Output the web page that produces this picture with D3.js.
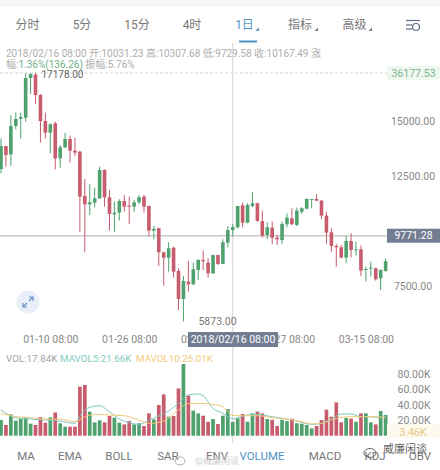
<!DOCTYPE html>
<html>
<head>
<meta charset="utf-8">
<script src="https://cdnjs.cloudflare.com/ajax/libs/d3/7.8.5/d3.min.js"></script>
<style>
html,body{margin:0;padding:0;background:#fff;}
svg{display:block;font-family:Roboto,"Noto Sans CJK SC",sans-serif;}
</style>
</head>
<body>
<div id="chart"></div>
<script>
// Daily candles
const opens = [12805,13851,13472,14760,15093,15139,16941,17093,16169,14987,14457,14881,13290,13790,14169,13639,13593,11578,11200,11275,11472,12760,11518,10745,10821,11351,11139,11093,11290,11548,11124,10003,10109,9018,8775,9230,8170,6897,7685,7564,8215,8670,8548,8063,8897,8488,9457,10031.23,10154,11154,10366,11124,11245,10442,9806,10139,9684,9578,10291,10563,10260,10866,11003,11412,11442,11366,10684,9927,9306,9245,8776,9533,9124,9154,8215,8276,8291,7836,8169];
const highs = [14199,13851,15260,15366,15366,17153,17150,17178,16214,15366,14881,14957,13896,14457,14320,14229,13624,12351,12108,11957,12911,12790,11851,11321,11427,11624,11548,11396,11624,11624,11139,10215,10139,9048,9472,9275,8291,7942,8624,8548,8700,9094,8745,8897,8897,9609,10215,10307.68,11124,11275,11245,11745,11275,10912,10381,10412,9806,10412,10791,11018,11048,11063,11472,11442,11654,11396,10866,10109,9397,9351,9760,9882,9503,9321,8366,8594,8321,8245,8745];
const lows = [12608,12911,12942,14608,14199,14957,16214,15745,14002,14199,13517,12790,12866,13745,13093,13396,9927,9018,10715,11063,11442,11093,10003,9957,10457,10866,10306,10866,11215,10821,9730,9609,8397,7503,8139,7867,6397,5873,7230,7533,7760,8215,7867,8033,8442,8488,9245,9729.58,10109,10154,10336,11063,10412,9684,9624,9381,9351,9397,10154,10260,10215,10760,10972,11018,11351,10533,9397,9048,8366,8745,8518,8791,8866,7942,7685,7912,7730,7306,8139];
const closes = [13851,13442,14760,15078,15169,16941,17123,16169,14987,14457,14836,13290,13790,14169,13639,13548,11548,11200,11290,11472,12760,11518,10760,10821,11351,11093,11093,11290,11518,11093,10003,10078,9018,8775,9200,8139,6897,7715,7564,8245,8670,8609,8063,8897,8488,9472,10033,10167.49,11124,10366,11169,11245,10442,9775,10154,9684,9609,10306,10594,10291,10912,11018,11442,11442,11366,10684,9912,9306,9245,8776,9533,9124,9154,8185,8260,8321,7791,8215,8609];
// Volume per day, in thousands
const volumes = [20.2,13.8,27.5,19.4,21.5,23.7,15.5,13.8,24,16.8,23.7,30,16,11.6,11.6,11.6,63.2,65.4,31,17.2,19.8,17.2,25.4,23.2,16.8,14.6,18.9,14.6,16,12.5,28.8,21,39.6,53.3,24.5,25.4,61,92.5,51.6,32.3,28.8,25.8,18,21.5,15,25.8,34.4,17.84,22.4,28,18,28.8,31,28.8,21.5,20.6,12.5,20.6,18.9,22,16,15.5,13.8,9.5,12.5,20.2,33.5,24.5,43,17.2,22.8,22,18,28.8,28.8,17.2,14.6,31.8,26.7];
// Volume averages, as [day, thousands]
const mavol5 = [[0,33.5],[3,23.2],[6,21.5],[9,20.2],[12,18.9],[15,15.9],[16,25.8],[17,33.1],[18,36.6],[20,38.7],[22,31],[24,21.5],[26,16.8],[28,14.6],[30,19.8],[32,25.4],[34,31.8],[36,41.7],[38,52.5],[40,53.8],[41,51.6],[43,35.1],[45,28.8],[46,24.5],[47,21.66],[48,23.2],[50,26.7],[52,27.5],[55,24.5],[58,21.5],[60,18.9],[63,14.6],[65,15.9],[67,21.5],[69,28],[71,28],[73,24.5],[75,24.5],[77,23.2],[78,24.5]];
const mavol10 = [[0,28.8],[3,24.5],[6,23.2],[9,21.5],[12,21.5],[15,18],[17,24.5],[19,27.5],[22,26.7],[25,25.8],[28,20.2],[30,15.9],[33,18.9],[36,33.5],[38,41.7],[40,41.7],[43,40.4],[45,37.4],[47,26.01],[49,25.8],[52,25.8],[55,23.2],[58,21.5],[61,18],[63,15.1],[65,15.9],[68,22.4],[71,24.5],[74,24.5],[76,24.5],[78,23.2]];

const timeTickDays = [10,26,42,58,74];
const timeTickLabels = ["01-10 08:00","01-26 08:00","02-11 08:00","02-27 08:00","03-15 08:00"];
const priceTicks = [15000,12500,7500];
const volumeTicks = [80,60,40,20];
const periodTabs = ["分时","5分","15分","4时","1日","指标","高级"];
const indicatorTabs = ["MA","EMA","BOLL","SAR","ENV","VOLUME","MACD","KDJ","OBV"];
const selectedDay = 47;
const lastPrice = 9771.28;
const topPrice = 36177.53;
const peakPrice = 17178;
const bottomPrice = 5873;

const GREEN = "#4fa26e", RED = "#c75c6c", BLUE = "#4f93c6", SLATE = "#737d92";
const W = 440, H = 470;
const svg = d3.select("#chart").append("svg").attr("width", W).attr("height", H);

const x = d3.scaleLinear().domain([0, 78]).range([1, 385.6]);
const y = d3.scaleLinear().domain([7500, 15000]).range([285.7, 120.7]);
const yVol = d3.scaleLinear().domain([0, 80]).range([435.7, 373.7]);

const text = (s, px, py, size, fill, anchor) => svg.append("text")
  .attr("x", px).attr("y", py).attr("font-size", size).attr("fill", fill)
  .attr("text-anchor", anchor || "start").attr("dominant-baseline", "central").text(s);

// Page chrome
svg.append("rect").attr("width", W).attr("height", 7).attr("fill", "#f6f6f6");

const tabCentres = d3.scaleOrdinal().domain(periodTabs).range([27.5,82,137,192,244.5,300,354.5]);
periodTabs.forEach(t => text(t, tabCentres(t), 25, 12, t === "1日" ? BLUE : "#777", "middle"));
svg.append("rect").attr("x", 239).attr("y", 40.5).attr("width", 18).attr("height", 2).attr("fill", BLUE);
[[259,BLUE],[318,"#777"],[372,"#777"]].forEach(([tx, c]) =>
  svg.append("path").attr("d", `M${tx} 31 h-3.5 l3.5 -3.5 z`).attr("fill", c));

// Settings glyph in the toolbar
const gear = svg.append("g").attr("stroke", "#5c6f8a").attr("fill", "none").attr("stroke-width", 1.2);
[[406,420,20.5],[406,412,25],[406,412,29]].forEach(([a,b,c]) =>
  gear.append("line").attr("x1", a).attr("x2", b).attr("y1", c).attr("y2", c));
gear.append("circle").attr("cx", 416).attr("cy", 27).attr("r", 3.5);

// Selected-day readout
const info = svg.append("text").attr("y", 53).attr("font-size", 10).attr("fill", "#adadad").attr("dominant-baseline", "central");
info.append("tspan").attr("x", 6).text("2018/02/16 08:00 开:10031.23 高:10307.68 低:9729.58 收:10167.49  涨");
const info2 = svg.append("text").attr("y", 64).attr("font-size", 10).attr("fill", "#adadad").attr("dominant-baseline", "central");
info2.append("tspan").attr("x", 6).text("幅:");
info2.append("tspan").attr("fill", "#6fae85").text("1.36%(136.26)");
info2.append("tspan").text(" 振幅:5.76%");

// Guide lines
svg.append("line").attr("x1", 0).attr("x2", 387).attr("y1", 73).attr("y2", 73)
  .attr("stroke", "#d4d4d4").attr("stroke-dasharray", "3,2");
svg.append("line").attr("x1", 0).attr("x2", 387).attr("y1", y(lastPrice)).attr("y2", y(lastPrice))
  .attr("stroke", "#c9c9c9").attr("stroke-width", 1.5);
svg.append("line").attr("x1", x(selectedDay)).attr("x2", x(selectedDay)).attr("y1", 43).attr("y2", 443)
  .attr("stroke", "#d4d4d4");

// Candles
const days = d3.range(opens.length);
const candleColor = i => closes[i] >= opens[i] ? GREEN : RED;
const candles = svg.append("g").selectAll("g").data(days).join("g");
candles.append("line")
  .attr("x1", x).attr("x2", x)
  .attr("y1", i => y(highs[i])).attr("y2", i => y(lows[i]))
  .attr("stroke", candleColor).attr("stroke-width", 1);
candles.append("rect")
  .attr("x", i => x(i) - 1.8).attr("width", 3.6)
  .attr("y", i => y(Math.max(opens[i], closes[i])))
  .attr("height", i => Math.max(1, Math.abs(y(opens[i]) - y(closes[i]))))
  .attr("fill", candleColor);

// Extreme price labels
text(peakPrice.toFixed(2), x(7) + 6, y(peakPrice) + 1.5, 10, "#666");
text(bottomPrice.toFixed(2), x(37) + 15, y(bottomPrice) + 0.5, 10.5, "#777");

// Price axis
const priceAxis = d3.axisRight(y).tickValues(priceTicks).tickSize(0).tickFormat(d3.format(".2f"));
const gPrice = svg.append("g").attr("transform", "translate(413,0)").call(priceAxis);
gPrice.select(".domain").remove();
gPrice.selectAll("text").attr("x", 0).attr("text-anchor", "middle")
  .attr("font-size", 10.5).attr("fill", "#888").attr("font-family", "Roboto");

// Right-hand price tags
svg.append("rect").attr("x", 387).attr("y", 66).attr("width", 53).attr("height", 14).attr("fill", "#eff7f1");
text(topPrice.toFixed(2), 413.5, 73, 10.5, "#7ab58f", "middle");
svg.append("rect").attr("x", 387).attr("y", y(lastPrice) - 7).attr("width", 53).attr("height", 14).attr("fill", SLATE);
text(lastPrice.toFixed(2), 413.5, y(lastPrice), 10.5, "#fff", "middle");

// Zoom toggle
svg.append("circle").attr("cx", 28).attr("cy", 302).attr("r", 11.5).attr("fill", "#e9eff8");
svg.append("path").attr("d", "M29 301 l4 -4 M29 297 h4 v4 M27 303 l-4 4 M23 303 v4 h4")
  .attr("fill", "none").attr("stroke", "#6f8fc8").attr("stroke-width", 1.2);

// Time axis
const timeAxis = d3.axisBottom(x).tickValues(timeTickDays).tickSize(0)
  .tickFormat((d, i) => timeTickLabels[i]);
const gTime = svg.append("g").attr("transform", "translate(0,333)").call(timeAxis);
gTime.select(".domain").remove();
gTime.selectAll("text").attr("font-size", 10.5).attr("fill", "#888").attr("font-family", "Roboto");
svg.append("rect").attr("x", 188).attr("y", 332).attr("width", 90).attr("height", 15).attr("fill", SLATE);
text("2018/02/16 08:00", 233, 339.5, 10.5, "#fff", "middle");

// Volume legend
text("VOL:17.84K", 6, 358, 9.8, "#a3a3a3");
text("MAVOL5:21.66K", 60, 358, 9.8, "#7ccabf");
text("MAVOL10:26.01K", 136, 358, 9.8, "#f2cb7c");

// Volume bars
svg.append("g").selectAll("rect").data(days).join("rect")
  .attr("x", i => x(i) - 1.85).attr("width", 3.7)
  .attr("y", i => yVol(volumes[i]))
  .attr("height", i => yVol(0) - yVol(volumes[i]))
  .attr("fill", candleColor);

// Volume averages
const maLine = d3.line().x(d => x(d[0])).y(d => yVol(d[1])).curve(d3.curveMonotoneX);
svg.append("path").attr("d", maLine(mavol5)).attr("fill", "none").attr("stroke", "#7cc8bd").attr("stroke-width", 1);
svg.append("path").attr("d", maLine(mavol10)).attr("fill", "none").attr("stroke", "#f2c878").attr("stroke-width", 1);

// Volume axis
const volAxis = d3.axisRight(yVol).tickValues(volumeTicks).tickSize(0).tickFormat(d => d.toFixed(2) + "K");
const gVol = svg.append("g").attr("transform", "translate(414,0)").call(volAxis);
gVol.select(".domain").remove();
gVol.selectAll("text").attr("x", 0).attr("text-anchor", "middle")
  .attr("font-size", 10.5).attr("fill", "#888").attr("font-family", "Roboto");
svg.append("rect").attr("x", 387).attr("y", 424).attr("width", 53).attr("height", 14).attr("fill", "#fdf9ef");
text("3.46K", 413, 432, 10.5, "#e8c67e", "middle");

// Indicator tabs
const indicatorCentres = d3.scaleOrdinal().domain(indicatorTabs).range([26,70,119,168,217,262,325,375,420]);
indicatorTabs.forEach(t => text(t, indicatorCentres(t), 456, 11.5, t === "VOLUME" ? BLUE : "#777", "middle"));

// Account marks over the footer
text("@威廉闲谈", 195, 461, 9, "#cfcfcf");
text("威廉闲谈", 383, 449, 11, "#666");
const bird = svg.append("g").attr("fill", "none").attr("stroke", "#666");
bird.append("ellipse").attr("cx", 370).attr("cy", 453).attr("rx", 6).attr("ry", 4.5);
bird.append("ellipse").attr("cx", 180).attr("cy", 461).attr("rx", 5).attr("ry", 4).attr("stroke", "#aaa");
</script>
</body>
</html>
